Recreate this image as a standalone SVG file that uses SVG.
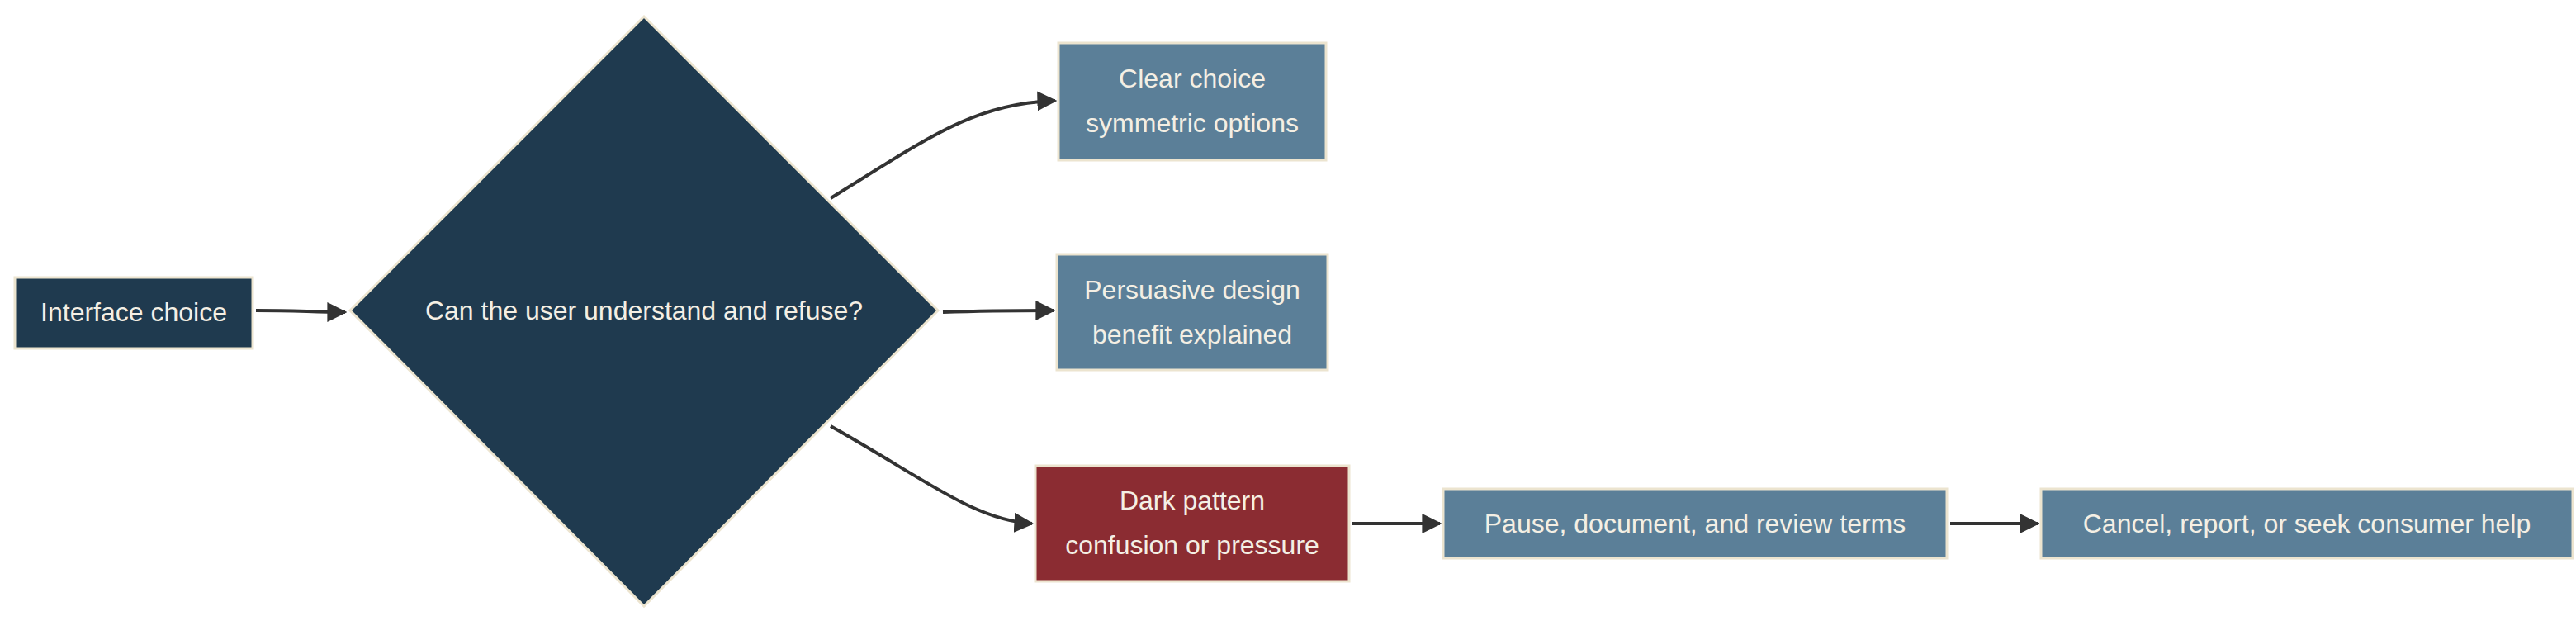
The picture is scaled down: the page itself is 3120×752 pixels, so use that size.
<svg xmlns="http://www.w3.org/2000/svg" width="3120" height="752" viewBox="0 0 3120 752">
<style>
.n{stroke:#ece4cf;stroke-width:3}
.dk{fill:#1f3a4f}.st{fill:#5b7f98}.rd{fill:#8b2c32}
text{font-family:"Liberation Sans",Arial,sans-serif;font-size:32px;fill:#f4efe4;text-anchor:middle}
.e{fill:none;stroke:#333;stroke-width:4}
</style>
<defs><marker id="a" viewBox="0 0 10 10" refX="9" refY="5" markerWidth="6" markerHeight="6" orient="auto"><path d="M0,0L10,5L0,10z" fill="#333"/></marker></defs>
<rect width="3120" height="752" fill="#fff"/>
<g id="edges">
<path class="e" marker-end="url(#a)" d="M310,376C360,376 380,378 418,378"/>
<path class="e" marker-end="url(#a)" d="M1006,240C1120,170 1180,124 1278,122"/>
<path class="e" marker-end="url(#a)" d="M1142,378C1200,376 1230,376 1276,376"/>
<path class="e" marker-end="url(#a)" d="M1006,516C1120,580 1180,630 1250,634"/>
<path class="e" marker-end="url(#a)" d="M1638,634L1744,634"/>
<path class="e" marker-end="url(#a)" d="M2362,634L2468,634"/>
</g>
<g id="interface"><rect class="n dk" x="18" y="336" width="288" height="86"/><text x="162" y="389">Interface choice</text></g>
<g id="decision"><polygon class="n dk" points="780,20 1136,376 780,734 424,376"/><text x="780" y="387">Can the user understand and refuse?</text></g>
<g id="clear"><rect class="n st" x="1282" y="52" width="324" height="142"/><text x="1444" y="106">Clear choice</text><text x="1444" y="160">symmetric options</text></g>
<g id="persuasive"><rect class="n st" x="1280" y="308" width="328" height="140"/><text x="1444" y="362">Persuasive design</text><text x="1444" y="416">benefit explained</text></g>
<g id="dark"><rect class="n rd" x="1254" y="564" width="380" height="140"/><text x="1444" y="617">Dark pattern</text><text x="1444" y="671">confusion or pressure</text></g>
<g id="pause"><rect class="n st" x="1748" y="592" width="610" height="84"/><text x="2053" y="645">Pause, document, and review terms</text></g>
<g id="cancel"><rect class="n st" x="2472" y="592" width="644" height="84"/><text x="2794" y="645">Cancel, report, or seek consumer help</text></g>
</svg>
